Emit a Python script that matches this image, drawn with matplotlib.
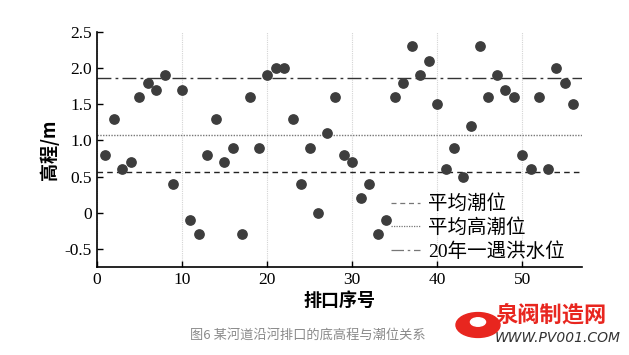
import matplotlib
matplotlib.use("Agg")
import matplotlib.pyplot as plt
from matplotlib.patches import Circle

plt.rcParams["font.family"] = ["Liberation Serif", "Noto Sans CJK SC", "DejaVu Sans"]

# outlet number and bottom elevation (m)
outlet_no = list(range(1, 57))
elevation = [
    0.8, 1.3, 0.6, 0.7, 1.6, 1.8, 1.7, 1.9, 0.4, 1.7,
    -0.1, -0.3, 0.8, 1.3, 0.7, 0.9, -0.3, 1.6, 0.9, 1.9,
    2.0, 2.0, 1.3, 0.4, 0.9, 0.0, 1.1, 1.6, 0.8, 0.7,
    0.2, 0.4, -0.3, -0.1, 1.6, 1.8, 2.3, 1.9, 2.1, 1.5,
    0.6, 0.9, 0.5, 1.2, 2.3, 1.6, 1.9, 1.7, 1.6, 0.8,
    0.6, 1.6, 0.6, 2.0, 1.8, 1.5,
]

level_names = ["平均潮位", "平均高潮位", "20年一遇洪水位"]
level_values = [0.57, 1.08, 1.87]
level_styles = [(0, (4, 3)), (0, (1, 1)), (0, (10, 3, 2, 3))]
level_colors = ["#222222", "#777777", "#333333"]

x_ticks = [0, 10, 20, 30, 40, 50]
y_ticks = [-0.5, 0, 0.5, 1.0, 1.5, 2.0, 2.5]
y_tick_labels = ["-0.5", "0", "0.5", "1.0", "1.5", "2.0", "2.5"]

fig = plt.figure(figsize=(6.29, 3.55), dpi=100)
ax = fig.add_axes([0.154, 0.248, 0.771, 0.662])

for name, val, ls, col in zip(level_names, level_values, level_styles, level_colors):
    ax.axhline(val, color=col, linestyle=ls, linewidth=1.0, label=name, zorder=2)

ax.scatter(outlet_no, elevation, s=45, color="#3d3d3d", zorder=3)

ax.set_xlim(0, 57)
ax.set_ylim(-0.75, 2.5)
ax.set_xticks(x_ticks)
ax.set_yticks(y_ticks)
ax.set_yticklabels(y_tick_labels)
ax.tick_params(direction="in", labelsize=12.5, length=4, width=1)
ax.grid(axis="x", color="#d4d4d4", linestyle=(0, (1, 1)), linewidth=0.8)
for side in ["top", "right"]:
    ax.spines[side].set_visible(False)
for side in ["left", "bottom"]:
    ax.spines[side].set_linewidth(1.2)

ax.set_xlabel("排口序号", fontsize=13, fontweight="bold",
              family=["Noto Sans CJK SC"], labelpad=2)
ax.set_ylabel("高程/m", fontsize=13, fontweight="bold",
              family=["Noto Sans CJK SC", "Liberation Serif"], labelpad=4)

leg = ax.legend(loc="lower right", bbox_to_anchor=(1.0, -0.05), frameon=False,
                prop={"family": ["Liberation Serif", "Noto Sans CJK SC"], "size": 14},
                handlelength=1.5, handletextpad=0.4, labelspacing=0.27)
for line in leg.get_lines():
    line.set_color("#777777")
    line.set_linewidth(0.9)

fig.text(0.49, 0.056, "图6 某河道沿河排口的底高程与潮位关系", ha="center", va="center",
         fontsize=9.5, color="#8a8a8a", family=["Noto Sans CJK SC"])

# watermark
fig.patches.append(Circle((478 / 629, 1 - 325 / 355), 0.035, transform=fig.transFigure,
                          color="#e8261f", zorder=5))
fig.patches.append(Circle((478 / 629, 1 - 322 / 355), 0.012, transform=fig.transFigure,
                          color="white", zorder=6))
fig.text(0.787, 0.113, "泉阀制造网", ha="left", va="center", fontsize=16,
         fontweight="bold", color="#e8261f", family=["Noto Sans CJK SC"])
fig.text(0.787, 0.048, "WWW.PV001.COM", ha="left", va="center", fontsize=10,
         style="italic", color="#333333", family=["DejaVu Sans"])

fig.savefig("out.png", dpi=100)
